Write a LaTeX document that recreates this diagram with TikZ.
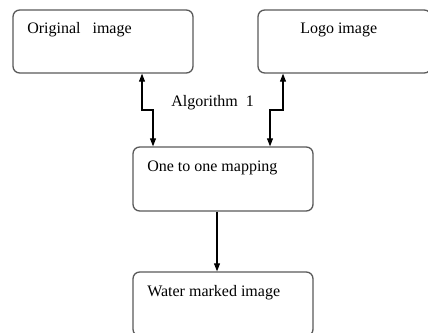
\documentclass[tikz,border=0pt]{standalone}
\usepackage{fontspec}
\setmainfont{Liberation Serif}
\usetikzlibrary{arrows.meta}

\begin{document}
\begin{tikzpicture}[
   x=0.75pt, y=-0.75pt,
   box/.style={draw=black!65, line width=1pt, rounded corners=5pt,
               minimum width=135pt, inner sep=0pt},
   txt/.style={anchor=base west, inner sep=0pt,
               font=\fontsize{12}{14}\selectfont},
   link/.style={line width=0.8pt, {Triangle[length=6pt,width=4.5pt]}-{Triangle[length=6pt,width=4.5pt]}},
   flow/.style={line width=0.8pt, -{Triangle[length=6pt,width=4.5pt]}}
]
\useasboundingbox (0,0) rectangle (428,332);

% boxes
\node[box, minimum height=47.25pt] (orig) at (103,41.5) {};
\node[box, minimum width=129.75pt, minimum height=47.25pt] (logo) at (344.5,41.5) {};
\node[box, minimum height=48pt] (map) at (223,179) {};
\node[box, minimum height=48pt] (wm) at (223,304) {};

% texts
\node[txt] (origtxt) at (27,33.5) {Original\ \ \ image};
\node[txt] (logotxt) at (300,33.5) {Logo image};
\node[txt] (maptxt) at (147,171.5) {One to one mapping};
\node[txt] (wmtxt) at (147,296) {Water marked image};
\node[txt] (algo) at (171,106) {Algorithm\ \ 1};

% connectors
\coordinate (bend) at (0,110);
\coordinate (lup) at (142,0);
\coordinate (ldn) at (153,0);
\coordinate (rup) at (283,0);
\coordinate (rdn) at (270,0);
\coordinate (down) at (217,0);
\draw[link] (orig.south -| lup) -- (bend -| lup) -- (bend -| ldn) -- (map.north -| ldn);
\draw[link] (logo.south -| rup) -- (bend -| rup) -- (bend -| rdn) -- (map.north -| rdn);
\draw[flow] (map.south -| down) -- (wm.north -| down);
\end{tikzpicture}
\end{document}
